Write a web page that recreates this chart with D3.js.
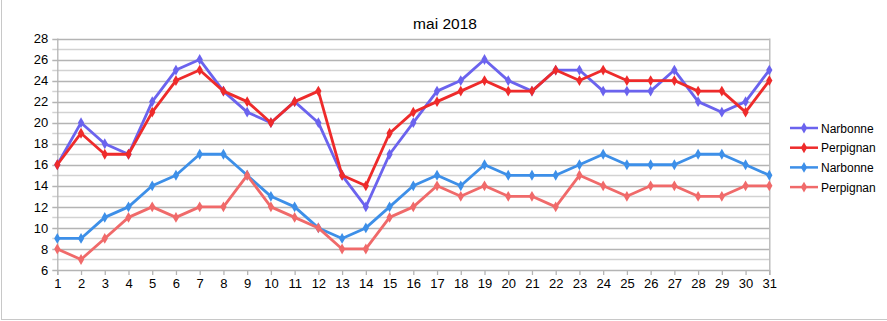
<!DOCTYPE html>
<html><head><meta charset="utf-8">
<script src="https://cdn.jsdelivr.net/npm/d3@7"></script>
<style>body{margin:0;background:#fff}svg{display:block}</style>
</head><body>
<svg id="c" width="887" height="321"></svg>
<script>
const days = d3.range(1, 32);
const narbonneMax = [16,20,18,17,22,25,26,23,21,20,22,20,15,12,17,20,23,24,26,24,23,25,25,23,23,23,25,22,21,22,25];
const perpignanMax = [16,19,17,17,21,24,25,23,22,20,22,23,15,14,19,21,22,23,24,23,23,25,24,25,24,24,24,23,23,21,24];
const narbonneMin = [9,9,11,12,14,15,17,17,15,13,12,10,9,10,12,14,15,14,16,15,15,15,16,17,16,16,16,17,17,16,15];
const perpignanMin = [8,7,9,11,12,11,12,12,15,12,11,10,8,8,11,12,14,13,14,13,13,12,15,14,13,14,14,13,13,14,14];
const yTicks = [6,8,10,12,14,16,18,20,22,24,26,28];
const title = "mai 2018";
const series = [
  {name:"Narbonne", values:narbonneMax, color:"#6b63ee"},
  {name:"Perpignan", values:perpignanMax, color:"#ee2b2b"},
  {name:"Narbonne", values:narbonneMin, color:"#3d8fe8"},
  {name:"Perpignan", values:perpignanMin, color:"#f06a6a"}
];

const svg = d3.select("#c");
const font = "'Liberation Sans', Arial, sans-serif";
const x = d3.scaleLinear().domain([1,31]).range([57.3,769.3]);
const y = d3.scaleLinear().domain([6,28]).range([270,38.5]);

// outer frame
svg.append("line").attr("x1",1.5).attr("x2",1.5).attr("y1",0).attr("y2",320).attr("stroke","#c8c8c8");
svg.append("line").attr("x1",1).attr("x2",887).attr("y1",319.5).attr("y2",319.5).attr("stroke","#c8c8c8");

// gridlines every unit
const g = svg.append("g");
d3.range(6,29).forEach(v=>{
  g.append("line").attr("x1",x(1)-5).attr("x2",x(31))
   .attr("y1",Math.round(y(v))+0.5).attr("y2",Math.round(y(v))+0.5)
   .attr("stroke", v%2===0 ? "#b4b4b4" : "#d2d2d2").attr("stroke-width",1.3);
});
// plot border
g.append("line").attr("x1",x(31)+0.5).attr("x2",x(31)+0.5).attr("y1",y(28)).attr("y2",y(6)+5).attr("stroke","#b4b4b4").attr("stroke-width",1.3);
g.append("line").attr("x1",x(1)+0.5).attr("x2",x(1)+0.5).attr("y1",y(28)).attr("y2",y(6)+5).attr("stroke","#b4b4b4").attr("stroke-width",1.3);

// axes
const yAxis = d3.axisLeft(y).tickValues(yTicks).tickSize(0).tickPadding(9);
const ya = svg.append("g").attr("transform",`translate(${x(1)},0)`).call(yAxis);
ya.select(".domain").remove();
ya.selectAll("text").attr("font-family",font).attr("font-size",13).attr("fill","#000");

const xAxis = d3.axisBottom(x).tickValues(days).tickSize(5).tickPadding(4);
const xa = svg.append("g").attr("transform",`translate(0,${y(6)})`).call(xAxis);
xa.select(".domain").remove();
xa.selectAll(".tick line").attr("stroke","#b4b4b4").attr("stroke-width",1.3);
xa.selectAll("text").attr("font-family",font).attr("font-size",13).attr("fill","#000");

// lines
const line = d3.line().x((d,i)=>x(days[i])).y(d=>y(d));
const diamond = d3.symbol().type(d3.symbolDiamond).size(34);
series.forEach(s=>{
  svg.append("path").attr("d",line(s.values)).attr("fill","none")
    .attr("stroke",s.color).attr("stroke-width",2.8).attr("stroke-linejoin","round");
  svg.append("g").selectAll("path").data(s.values).join("path")
    .attr("d",diamond).attr("fill",s.color)
    .attr("transform",(d,i)=>`translate(${x(days[i])},${y(d)})`);
});

// title
svg.append("text").attr("x",445).attr("y",29).attr("text-anchor","middle")
  .attr("font-family",font).attr("font-size",15.5).attr("fill","#000").text(title);

// legend
const lg = svg.append("g");
series.forEach((s,i)=>{
  const ly = 128 + i*19.7;
  lg.append("line").attr("x1",790).attr("x2",818).attr("y1",ly).attr("y2",ly).attr("stroke",s.color).attr("stroke-width",2.5);
  lg.append("path").attr("d",diamond).attr("fill",s.color).attr("transform",`translate(804,${ly})`);
  lg.append("text").attr("x",821).attr("y",ly+4.5).attr("font-family",font).attr("font-size",12).attr("fill","#000").text(s.name);
});
</script>
</body></html>
